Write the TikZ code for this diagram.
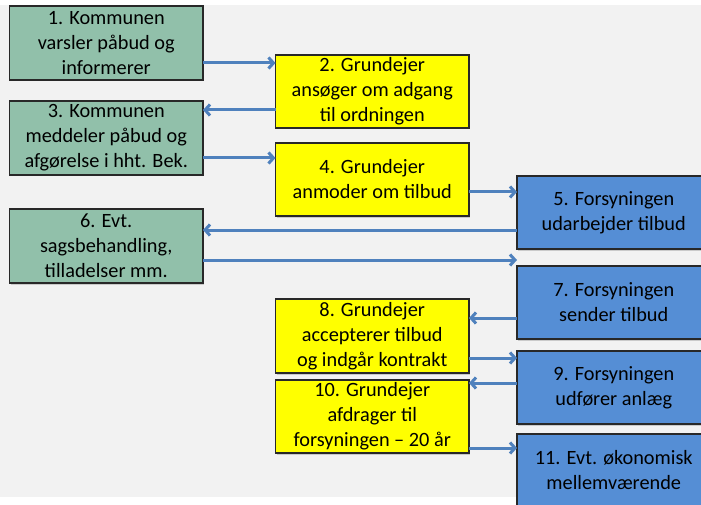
\documentclass[tikz,border=0pt]{standalone}
\usepackage{fontspec}
\setmainfont{Carlito}
\usetikzlibrary{arrows.meta,shadows}
\definecolor{bgc}{RGB}{242,242,242}
\definecolor{grn}{RGB}{145,192,170}
\definecolor{ylw}{RGB}{255,255,0}
\definecolor{blu}{RGB}{85,142,213}
\definecolor{arc}{RGB}{79,129,189}
\definecolor{edc}{RGB}{40,40,40}
\begin{document}
\begin{tikzpicture}[x=1pt,y=-1pt,
  box/.style={draw=edc, line width=1.2pt, minimum width=193.5pt, anchor=north west,
    align=center, inner sep=0pt, outer sep=0pt,
    font=\fontsize{20.3}{25}\selectfont,
    drop shadow={shadow xshift=1.2pt, shadow yshift=-1.5pt, opacity=0.35}},
  gbox/.style={box, fill=grn},
  ybox/.style={box, fill=ylw},
  bbox/.style={box, fill=blu},
  conn/.style={draw=arc, line width=3pt, -{Straight Barb[length=5pt,width=11pt]}}]
\useasboundingbox (0,0) rectangle (701,505);
\clip (0,0) rectangle (701,505);
\fill[bgc] (0,5) rectangle (701,497);
% green
\node[gbox, minimum height=74pt] (n1) at (9.5,6) {1. Kommunen\\varsler påbud og\\informerer};
\node[gbox, minimum height=74pt] (n3) at (9.5,101) {3. Kommunen\\meddeler påbud og\\afgørelse i hht. Bek.};
\node[gbox, minimum height=74pt] (n6) at (9.5,209) {6. Evt.\\sagsbehandling,\\tilladelser mm.};
% yellow
\node[ybox, minimum height=73pt] (n2) at (275.5,55) {2. Grundejer\\ansøger om adgang\\til ordningen};
\node[ybox, minimum height=73pt] (n4) at (275.5,143) {4. Grundejer\\anmoder om tilbud};
\node[ybox, minimum height=74pt] (n8) at (275.5,299) {8. Grundejer\\accepterer tilbud\\og indgår kontrakt};
\node[ybox, minimum height=73pt] (n10) at (275.5,380) {10. Grundejer\\afdrager til\\forsyningen -- 20 år};
% blue
\node[bbox, minimum height=73pt] (n5) at (517,176) {5. Forsyningen\\udarbejder tilbud};
\node[bbox, minimum height=73pt] (n7) at (517,266) {7. Forsyningen\\sender tilbud};
\node[bbox, minimum height=73pt] (n9) at (517,351) {9. Forsyningen\\udfører anlæg};
\node[bbox, minimum height=73pt] (n11) at (517,434) {11. Evt. økonomisk\\mellemværende};
% connectors
\draw[conn] (n1.east |- 0,63) -- (n2.west |- 0,63);
\draw[conn] (n2.west |- 0,110) -- (n3.east |- 0,110);
\draw[conn] (n3.east |- 0,158) -- (n4.west |- 0,158);
\draw[conn] (n4.east |- 0,192) -- (n5.west |- 0,192);
\draw[conn] (n5.west |- 0,230) -- (n6.east |- 0,230);
\draw[conn] (n6.east |- 0,260) -- (n7.west |- 0,260);
\draw[conn] (n7.west |- 0,318) -- (n8.east |- 0,318);
\draw[conn] (n8.east |- 0,358) -- (n9.west |- 0,358);
\draw[conn] (n9.west |- 0,383) -- (n10.east |- 0,383);
\draw[conn] (n10.east |- 0,448) -- (n11.west |- 0,448);
\end{tikzpicture}
\end{document}
